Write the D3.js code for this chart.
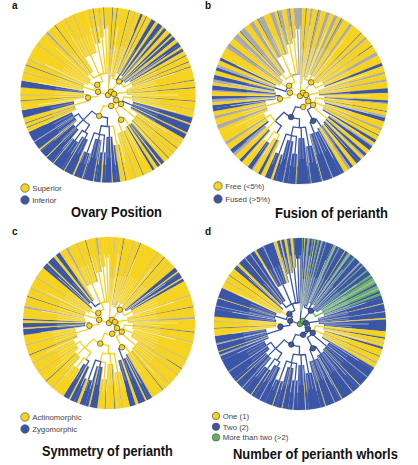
<!DOCTYPE html>
<html>
<head>
<meta charset="utf-8">
<script src="https://cdn.jsdelivr.net/npm/d3@7"></script>
<style>
body{margin:0;background:#fff}
svg{display:block}
</style>
</head>
<body>
<svg width="418" height="465"></svg>
<script>
// backbone of the tree: ids, parents and node depth (fraction of disc radius)
const nodeIds     = ["n0","n1","n2","n3","n4","n5","n6","n7","n8","n9","n10","n11","n12","n13","n14","n15","n16"];
const nodeParents = ["",  "n0","n1","n2","n2","n3","n5","n5","n6","n7","n7", "n0", "n11","n11","n13","n9", "n10"];
const nodeAges    = [0, 0.05,0.07,0.11,0.2,0.13,0.18,0.26,0.32,0.36,0.4,0.12,0.23,0.17,0.25,0.46,0.5];

// terminal clades in tree order, tip counts (half-degree tips) and crown depth
const blockIds     = ["B1","B2","B3","B4","B5","B6","B7","B8","B9","B10","B11","B12","B13","B14","B15","B16","B17","B18","B19","B20","B21","B22","B23","B24","B25","B26","B27","B28","B29"];
const blockParents = ["n1","n4","n4","n4","n4","n3","n6","n6","n6","n8","n8","n9","n9","n15","n15","n15","n16","n16","n10","n10","n12","n12","n13","n13","n14","n14","n14","n14","n14"];
const blockTips    = [16,28,32,34,34,36,28,36,32,28,28,16,16,12,16,16,16,16,20,30,34,36,32,32,32,34,14,8,8];
const blockCrowns  = [0.14,0.22,0.27,0.24,0.3,0.22,0.28,0.3,0.4,0.42,0.45,0.58,0.48,0.66,0.52,0.7,0.56,0.64,0.52,0.46,0.4,0.28,0.3,0.26,0.32,0.5,0.6,0.66,0.76];
const subcladeSize = 6;   // tips per minor subclade inside each clade

// tip states, run-length coded in tree order (Y, B, V = trait states, G = no data)
const tipsA = "Y6 B1 Y5 B1 Y7 Y8 B1 Y7 G1 Y7 B3 Y5 B1 Y7 B6 Y4 B7 Y3 B4 Y6 B4 Y2 B5 Y5 B7 Y3 B4 " +
  "Y6 B1 Y8 B1 Y6 B1 Y7 Y10 B1 Y9 B1 Y9 Y8 B1 Y10 G1 Y10 B8 Y2 B11 Y2 B7 " +
  "Y6 G1 Y8 B1 Y7 G1 Y8 B1 Y7 B5 Y2 B4 Y5 B3 Y5 Y8 B1 Y10 G1 Y12 B1 Y7 " +
  "B10 Y1 B13 Y2 B9 Y1 B14 Y1 B11 Y2 B12 Y1 B16 Y1 B11 Y1 B12 Y2 B11 G1 B14 " +
  "Y6 B1 Y5 B1 Y7 B10 Y4 Y8 B1 Y7 G1 Y9 B9 Y5 Y6 G1 Y9 B1 Y7 G1 Y11 " +
  "Y12 G1 Y17 G3 Y12 B1 Y15 G1 Y11 G1 Y16 Y4 G1 Y5 B1 Y7 G1 Y5 B1 Y5";
const tipsB = "G3 Y5 B1 Y5 G3 Y7 B1 G3 Y7 G5 Y6 G5 Y5 B1 G3 Y9 G4 Y7 " +
  "Y8 B1 Y7 G3 Y11 B1 Y9 G5 Y11 B4 Y8 G3 Y7 G3 Y9 B6 Y4 " +
  "Y6 B3 G2 Y9 B1 Y5 G3 B5 Y9 G3 Y7 B1 Y6 B4 Y4 G2 B6 Y6 B4 G2 Y4 B8 Y6 B4 G4 Y6 " +
  "B16 G1 B13 Y1 B14 G1 B19 Y1 B16 G1 B13 Y3 B8 Y6 B4 Y8 G2 B6 Y10 B4 Y8 G4 B6 Y8 G4 Y13 " +
  "Y6 G6 Y8 G4 Y6 B8 Y4 G4 B4 Y6 G2 B6 Y4 G4 B6 Y6 B4 G4 Y6 B4 Y8 " +
  "Y6 G6 B1 Y9 G8 Y4 B1 G7 Y8 G6 Y6 B1 G8 Y9 G6 Y4 B1 G5 Y6 G4 B1 Y5 G8";
const tipsC = "Y8 G1 Y11 B1 Y13 G1 Y8 B1 Y16 Y10 G1 Y9 B1 Y9 G1 Y9 B6 Y2 B8 Y2 B4 Y8 " +
  "Y12 G1 Y15 B1 Y13 G3 Y17 B1 Y13 G1 Y13 Y10 G1 Y13 B1 Y9 G1 Y15 G1 Y11 B1 Y17 B8 Y2 B10 Y4 B8 " +
  "Y10 G1 Y9 B1 Y12 B1 Y10 B10 Y2 B12 Y4 B10 Y2 B8 Y6 " +
  "Y12 G1 Y11 B1 Y15 G1 Y13 G1 Y11 B1 Y13 G1 Y13 B8 Y2 B6 Y4 B2 Y4 " +
  "Y10 G3 Y13 B1 Y11 G1 Y15 G1 Y15 B8 Y2 B10 Y4 B6 Y10 G3 Y13 G1 Y11 B1 Y13 G3 Y15";
const tipsD = "B3 V1 B2 Y1 B3 V1 G2 B4 V1 B2 Y1 B3 V2 B3 G2 B4 V1 B4 " +
  "B6 V2 G2 B4 V1 B8 Y1 B4 V2 G2 B6 V2 B8 G2 B4 V1 B7 V2 B6 " +
  "V3 B2 V4 G2 V3 B3 V4 G1 V3 B3 V3 B3 B8 Y1 B10 G1 B8 Y2 B16 " +
  "Y8 B2 Y6 G1 Y4 B3 Y10 B1 Y8 G2 Y6 B3 " +
  "B12 G1 B14 Y1 B12 G1 B16 Y1 B10 G1 B12 Y1 B14 " +
  "B12 Y1 B16 G1 B14 Y1 B12 Y1 B18 G1 B12 Y1 B14 G1 B10 Y1 B16 G1 B17 " +
  "B6 G2 B4 Y1 B9 G2 B10 Y10 B1 Y8 G1 Y6 B6 B8 G1 B10 Y1 B14 Y10 G1 Y8 B1 Y10 B6 Y4 " +
  "B10 Y1 B8 G1 B6 Y3 B10 G1 B10 B4 Y1 G1 Y3 B4 Y1 G1 B4 Y3 V1 B4 G1 Y3 B9";

// reconstructed states at backbone nodes (same order as nodeIds)
const nodesA = "YYYYYYYYYBBYYYYBB";
const nodesB = "YYYYYYYBBBBYYYYBB";
const nodesC = "YYYYYYYYYYYYYYYYY";
const nodesD = "VVBBBBBBBBBBBBBBB";
const circledNodes = ["n0","n1","n2","n3","n4","n5","n6","n7","n8","n11","n12","n13"];

const panelLetters = ["a","b","c","d"];
const titles = ["Ovary Position","Fusion of perianth","Symmetry of perianth","Number of perianth whorls"];
const legendA = ["Superior","Inferior"];
const legendB = ["Free (<5%)","Fused (>5%)"];
const legendC = ["Actinomorphic","Zygomorphic"];
const legendD = ["One (1)","Two (2)","More than two (>2)"];
const legendStates = [["Y","B"],["Y","B"],["Y","B"],["Y","B","V"]];

const colour = {Y:"#f5d320", B:"#3b56a6", G:"#aaaaaa", V:"#62b35c"};

function expand(rle){
  const out = [];
  rle.trim().split(/\s+/).forEach(t => {
    const n = +t.slice(1);
    for (let i = 0; i < n; i++) out.push(t[0]);
  });
  return out;
}

const N = d3.sum(blockTips);

// shared topology
const rows = nodeIds.map((id,i)=>({id, parent:nodeParents[i], age:nodeAges[i], leaf:false}))
  .concat(blockIds.map((id,i)=>({id, parent:blockParents[i], age:blockCrowns[i], leaf:true, tips:blockTips[i]})));
const root = d3.stratify().id(d=>d.id).parentId(d=>d.parent||null)(rows);

let cum = 0;
const startTip = {};
blockIds.forEach((id,i)=>{ startTip[id] = cum; cum += blockTips[i]; });

root.eachAfter(n=>{
  if (n.data.leaf){
    n.t0 = startTip[n.id];
    n.t1 = n.t0 + n.data.tips;
  } else {
    n.t0 = d3.min(n.children, c=>c.t0);
    n.t1 = d3.max(n.children, c=>c.t1);
  }
  n.pos = n.data.leaf ? (n.t0+n.t1)/2
        : (d3.min(n.children,c=>c.pos) + d3.max(n.children,c=>c.pos))/2;
});

const panels = [
  {cx:108, cy:95,  r:87.5, tips:tipsA, nodes:nodesA, legend:legendA, lx:25,  ly:188, ldy:12,   lr:4.2, title:[71,217,91],   lab:[12,9]},
  {cx:300, cy:96,  r:88,   tips:tipsB, nodes:nodesB, legend:legendB, lx:218, ly:186, ldy:13,   lr:4.2, title:[275,218,113], lab:[205,9]},
  {cx:109, cy:323, r:86,   tips:tipsC, nodes:nodesC, legend:legendC, lx:25,  ly:417, ldy:12,   lr:4.2, title:[42,456,131],  lab:[12,235]},
  {cx:300, cy:324, r:86,   tips:tipsD, nodes:nodesD, legend:legendD, lx:216, ly:416, ldy:10.7, lr:3.7, title:[233,459,165], lab:[205,235]}
];

const svg = d3.select("svg");
svg.append("rect").attr("width",418).attr("height",465).attr("fill","#fff");

panels.forEach((p,pi)=>{
  const tipState = expand(p.tips);
  const ang = d3.scaleLinear().domain([0,N]).range([0,2*Math.PI]);
  const rad = d3.scaleLinear().domain([0,1]).range([0,p.r]);
  const nodeState = {};
  nodeIds.forEach((id,i)=>nodeState[id] = p.nodes[i]);
  const px = (r,a)=>[r*Math.sin(a), -r*Math.cos(a)];

  const g = svg.append("g").attr("transform",`translate(${p.cx},${p.cy})`);
  const arc = d3.arc();

  // tip fills per clade
  root.leaves().forEach(leaf=>{
    const counts = d3.rollup(d3.range(leaf.t0,leaf.t1), v=>v.length, i=>tipState[i]||"Y");
    nodeState[leaf.id] = d3.greatest(Array.from(counts).filter(d=>d[0]!=="G"), d=>d[1])?.[0] || "G";
    let s = leaf.t0;
    for (let i = leaf.t0+1; i <= leaf.t1; i++){
      if (i === leaf.t1 || tipState[i] !== tipState[s]){
        g.append("path")
          .attr("d", arc({innerRadius:rad(leaf.data.age), outerRadius:p.r, startAngle:ang(s), endAngle:ang(i)}))
          .attr("fill", colour[tipState[s]||"Y"])
          .attr("stroke", colour[tipState[s]||"Y"])
          .attr("stroke-width",0.2);
        s = i;
      }
    }
  });

  // thin white gaps between clades and between their minor subclades
  root.leaves().forEach(leaf=>{
    const r0 = rad(leaf.data.age);
    const a = ang(leaf.t0);
    g.append("line")
      .attr("x1", px(r0,a)[0]).attr("y1", px(r0,a)[1])
      .attr("x2", px(p.r*0.8,a)[0]).attr("y2", px(p.r*0.8,a)[1])
      .attr("stroke","#fff").attr("stroke-width",0.5);
    for (let k = leaf.t0 + subcladeSize; k < leaf.t1 - 2; k += subcladeSize){
      const b = ang(k), r1 = r0 + (p.r - r0)*0.45;
      g.append("line")
        .attr("x1", px(r0+1,b)[0]).attr("y1", px(r0+1,b)[1])
        .attr("x2", px(r1,b)[0]).attr("y2", px(r1,b)[1])
        .attr("stroke","#fff").attr("stroke-opacity",0.8).attr("stroke-width",0.4);
    }
  });

  // branches
  root.descendants().forEach(n=>{
    if (!n.parent) return;
    const pr = rad(n.parent.data.age), a0 = ang(n.parent.pos), a1 = ang(n.pos);
    const path = d3.path();
    path.moveTo(...px(pr,a0));
    path.arc(0,0,pr,a0-Math.PI/2,a1-Math.PI/2,a1<a0);
    path.lineTo(...px(rad(n.data.age),a1));
    g.append("path").attr("d",path.toString())
      .attr("fill","none")
      .attr("stroke",colour[nodeState[n.id]])
      .attr("stroke-width",1.3);
  });

  // reconstructed nodes
  root.descendants().filter(n=>circledNodes.includes(n.id)).forEach(n=>{
    const [x,y] = px(rad(n.data.age), ang(n.pos));
    g.append("circle").attr("cx",x).attr("cy",y).attr("r",2.8)
      .attr("fill",colour[nodeState[n.id]])
      .attr("stroke","#333").attr("stroke-width",0.6);
  });

  // legend
  p.legend.forEach((txt,i)=>{
    svg.append("circle").attr("cx",p.lx).attr("cy",p.ly+i*p.ldy).attr("r",p.lr)
      .attr("fill",colour[legendStates[pi][i]]).attr("stroke","#555").attr("stroke-width",0.7);
    svg.append("text").attr("x",p.lx+p.lr+3).attr("y",p.ly+i*p.ldy+3)
      .attr("font-family","'Liberation Sans', Arial, sans-serif").attr("font-size",7.8)
      .attr("fill","#444").text(txt);
  });

  // title, squeezed horizontally to the condensed width of the original
  const t = svg.append("text")
    .attr("font-family","'Liberation Sans Narrow','Arial Narrow','Liberation Sans',sans-serif")
    .attr("font-weight","bold").attr("font-size",15).attr("fill","#111")
    .text(titles[pi]);
  const w = t.node().getComputedTextLength();
  t.attr("transform",`translate(${p.title[0]},${p.title[1]}) scale(${p.title[2]/w},1)`);

  svg.append("text").attr("x",p.lab[0]).attr("y",p.lab[1])
    .attr("font-family","'Liberation Sans', Arial, sans-serif")
    .attr("font-weight","bold").attr("font-size",10).attr("fill","#111")
    .text(panelLetters[pi]);
});
</script>
</body>
</html>
